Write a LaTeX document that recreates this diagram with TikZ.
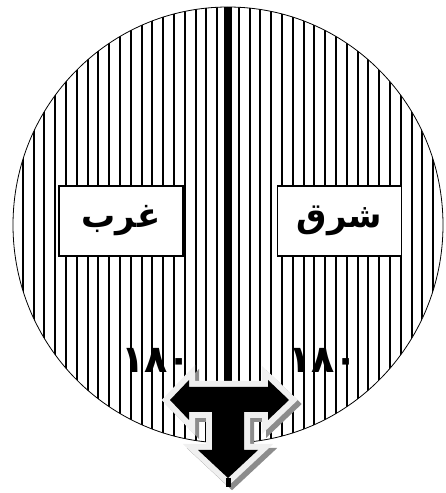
\documentclass[tikz,border=0pt]{standalone}
\usepackage{fontspec}
\usepackage{tikz}
\usetikzlibrary{calc, positioning}
\TeXXeTstate=1
\newfontfamily\arabicfont[Script=Arabic]{DejaVu Sans}

\begin{document}
\begin{tikzpicture}[>=stealth, x=1pt, y=1pt,
    stripe/.style={line width=2pt},
    dirbox/.style={draw, line width=1.4pt, fill=white, inner sep=0pt,
        minimum width=124pt, minimum height=70pt,
        font=\arabicfont\bfseries\fontsize{34}{36}\selectfont},
    numlabel/.style={inner sep=0pt, font=\arabicfont\bfseries\fontsize{38}{40}\selectfont},
    tarrow/.pic={\path[pic actions] (170,93) -- (189,113) -- (189,106) -- (268,106)
        -- (268,113) -- (289,93) -- (268,73) -- (268,81) -- (244,81) -- (244,43)
        -- (258,43) -- (228,15) -- (198,43) -- (212,43) -- (212,81) -- (189,81)
        -- (189,73) -- cycle;}]

    \useasboundingbox (0,0) rectangle (445,493);

    % =================================================================
    % 1. MAIN POINTS
    % =================================================================
    \coordinate (O) at (228,268);
    \coordinate (Top) at (228,486);
    \coordinate (ArrowTip) at (228,15);
    \coordinate (Bottom) at (228,6);

    % =================================================================
    % 2. STRIPED DISC AND MIDDLE LINE
    % =================================================================
    \begin{scope}
        \clip (O) ellipse [x radius=215, y radius=218];
        \foreach \k in {-19,...,19}
            \draw[stripe] ($(O)+(10.8*\k,-230)$) -- ++(0,460);
    \end{scope}
    \draw[line width=0.8pt] (O) ellipse [x radius=215, y radius=218];

    % thick line from the top of the disc
    \draw[line width=8pt] (Top) -- (ArrowTip);

    % =================================================================
    % 3. WEST / EAST LABELS
    % =================================================================
    \node[dirbox] (west) at (121,272) {\beginR غرب\endR};
    \node[dirbox, right=93pt of west] (east) {\beginR شرق\endR};

    \node[numlabel] (numwest) at (156,133) {١٨٠};
    \node[numlabel] (numeast) at (323,133) {١٨٠};

    % =================================================================
    % 4. T ARROW WITH SHADOW
    % =================================================================
    \pic[draw=black!45, fill=black!45, line width=12pt] at (4,-4) {tarrow};
    \pic[draw=black!6, line width=12pt] at (0,0) {tarrow};
    \pic[fill=black] at (0,0) {tarrow};
    \draw[line width=5pt] (ArrowTip) -- (Bottom);

\end{tikzpicture}
\end{document}
